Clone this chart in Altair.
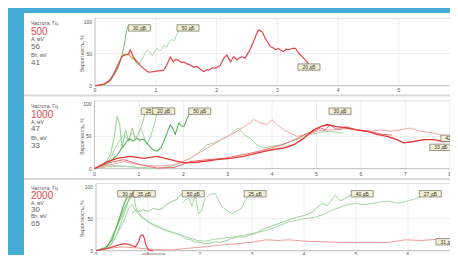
import altair as alt
import pandas as pd

# ---------------- values ----------------
freqs = ["500", "1000", "2000"]
amp_a = ["56", "47", "30"]
amp_b = ["41", "33", "65"]
y_ticks = [0, 50, 100]
p1_x_ticks = [0, 1, 2, 3, 4, 5]
p2_x_ticks = [0, 1, 2, 3, 4, 5, 6, 7, 8]
p3_x_ticks = [0, 1, 2, 3, 4, 5, 6]

# panel 1 (500 Hz)
p1_green1_x = [0, 0.08, 0.16, 0.24, 0.30, 0.36, 0.40, 0.44, 0.47, 0.50, 0.52, 0.54]
p1_green1_y = [0, 0.5, 2, 6, 14, 24, 33, 45, 58, 74, 86, 92]
p1_green2_x = [0.62, 0.66, 0.70, 0.74, 0.78, 0.82, 0.86, 0.90, 0.94, 0.98, 1.02, 1.06, 1.10, 1.14, 1.18, 1.22, 1.26, 1.30, 1.34, 1.38]
p1_green2_y = [44, 38, 33, 36, 42, 50, 56, 52, 47, 53, 58, 54, 57, 63, 60, 68, 72, 70, 78, 86]
p1_olive_x = [0, 0.1, 0.2, 0.3, 0.36, 0.44, 0.47, 0.55, 0.60, 0.69, 0.74]
p1_olive_y = [0, 1, 5, 16, 30, 45, 49, 49, 44, 37, 33]
p1_red_x = [0, 0.14, 0.25, 0.36, 0.44, 0.49, 0.55, 0.58, 0.63, 0.69, 0.74, 0.8, 0.88, 0.96, 1.04, 1.13, 1.18, 1.24, 1.29, 1.33,
            1.37, 1.42, 1.46, 1.52, 1.57, 1.62, 1.68, 1.73, 1.79, 1.84, 1.87, 1.93, 1.98, 2.03, 2.06, 2.12, 2.17, 2.23, 2.28, 2.34,
            2.38, 2.42, 2.47, 2.51, 2.55, 2.61, 2.65, 2.69, 2.75, 2.8, 2.84, 2.88, 2.93, 2.97, 3.02, 3.06, 3.1, 3.14, 3.19, 3.24,
            3.3, 3.35, 3.41, 3.45, 3.49, 3.52]
p1_red_y = [0, 2, 9, 27, 45, 48, 49, 56, 45, 37, 32, 27, 21, 22, 23, 24, 32, 45, 37, 41,
            40, 36, 37, 34, 32, 29, 30, 26, 22, 25, 24, 28, 27, 30, 32, 43, 48, 37, 45, 40,
            44, 45, 43, 50, 56, 69, 79, 87, 84, 74, 68, 61, 59, 56, 58, 55, 53, 57, 56, 58,
            58, 51, 45, 41, 37, 33]
p1_labels = ["30 дБ", "50 дБ", "20 дБ"]
p1_label_x = [0.73, 1.53, 3.52]
p1_label_y = [90, 90, 29]

# panel 2 (1000 Hz)
p2_g1_x = [0, 0.14, 0.25, 0.36, 0.44, 0.51, 0.57, 0.62, 0.70, 0.77, 0.85, 0.92, 1.00, 1.08, 1.15]
p2_g1_y = [0, 4, 9, 22, 47, 81, 68, 32, 60, 42, 63, 45, 55, 70, 88]
p2_g2_x = [0, 0.20, 0.35, 0.45, 0.55, 0.65, 0.75, 0.85, 0.95, 1.04, 1.11, 1.18, 1.25, 1.30, 1.37, 1.41]
p2_g2_y = [0, 6, 15, 30, 42, 52, 45, 55, 48, 63, 50, 37, 47, 58, 75, 88]
p2_g3_x = [0, 0.30, 0.50, 0.65, 0.75, 0.80, 0.88, 0.95, 1.02, 1.10, 1.20, 1.30, 1.41, 1.50, 1.56, 1.63, 1.71, 1.78, 1.82, 1.90, 1.96, 2.01, 2.09, 2.15]
p2_g3_y = [0, 8, 20, 35, 44, 46, 43, 47, 44, 46, 38, 30, 27, 33, 42, 55, 68, 60, 53, 71, 66, 65, 78, 88]
p2_g4_x = [0, 0.30, 0.66, 1.00, 1.41, 1.80, 2.16, 2.35, 2.54, 2.70, 2.91, 3.05, 3.13, 3.24, 3.36, 3.51, 3.66, 3.81, 4.00, 4.19,
           4.41, 4.60, 4.71, 4.85, 5.01, 5.15, 5.31, 5.45, 5.61]
p2_g4_y = [0, 3, 4, 2, 0, 5, 16, 25, 37, 40, 47, 52, 58, 63, 53, 47, 37, 32, 35, 37,
           42, 46, 50, 53, 55, 57, 58, 56, 55]
p2_g5_x = [0, 0.3, 0.6, 0.9, 1.2, 1.5]
p2_g5_y = [0, 6, 4, 2, 1, 0]
p2_pink_x = [0, 0.66, 1.04, 1.41, 1.79, 2.16, 2.54, 2.91, 3.21, 3.44, 3.59, 3.74, 3.89, 4.00, 4.11, 4.26, 4.41, 4.56, 4.79, 5.01,
             5.31, 5.61, 5.91, 6.21, 6.44, 6.66, 6.89, 7.11, 7.34, 7.64, 7.94, 8.12]
p2_pink_y = [0, 11, 6, 4, 6, 16, 32, 47, 58, 68, 76, 71, 68, 76, 68, 60, 55, 50, 53, 58,
             60, 63, 60, 58, 60, 58, 60, 63, 58, 55, 50, 47]
p2_red1_x = [0, 0.29, 0.51, 0.81, 1.11, 1.41, 1.71, 2.01, 2.31, 2.76, 3.06, 3.36, 3.66, 3.96, 4.26, 4.49, 4.71, 4.94, 5.09, 5.24,
             5.46, 5.69, 5.91, 6.14, 6.36, 6.59, 6.81, 6.96, 7.19, 7.41, 7.64, 7.86, 8.1]
p2_red1_y = [0, 11, 16, 19, 16, 19, 14, 9, 10, 14, 16, 19, 24, 29, 32, 37, 47, 60, 65, 68,
             65, 63, 60, 58, 53, 50, 45, 40, 42, 45, 45, 42, 43]
p2_red2_x = [0, 0.29, 0.66, 1.04, 1.41, 1.79, 2.16, 2.54, 2.91, 3.21, 3.51, 3.76, 3.96, 4.2, 4.41, 4.6, 4.79, 4.95, 5.09, 5.2,
             5.31, 5.42, 5.54, 5.65, 5.76, 5.9, 6.06, 6.2, 6.36, 6.5, 6.7]
p2_red2_y = [0, 9, 14, 6, 1, 2, 11, 14, 16, 20, 24, 28, 32, 36, 42, 48, 55, 58, 63, 60,
             68, 62, 60, 65, 63, 60, 58, 57, 55, 53, 52]
p2_labels = ["25 дБ", "20 дБ", "50 дБ", "30 дБ", "33 дБ", "42 дБ"]
p2_label_x = [1.3, 1.56, 2.37, 5.53, 7.8, 8.05]
p2_label_y = [89, 89, 89, 89, 33, 47]

# panel 3 (2000 Hz)
p3_g1_x = [0, 0.18, 0.31, 0.44, 0.53, 0.60, 0.63]
p3_g1_y = [0, 4, 17, 48, 71, 84, 90]
p3_g2_x = [0, 0.20, 0.37, 0.47, 0.56, 0.64, 0.69, 0.74]
p3_g2_y = [0, 3, 32, 50, 69, 80, 87, 92]
p3_g3_x = [0, 0.25, 0.40, 0.55, 0.66, 0.72, 0.76, 0.82, 0.88, 0.95, 1.01, 1.08, 1.14, 1.22, 1.33, 1.42, 1.53, 1.62, 1.72, 1.82,
           1.91, 2.00, 2.10, 2.20, 2.29, 2.40, 2.55, 2.65, 2.74, 2.85, 2.94, 3.06, 3.20, 3.35, 3.50, 3.70, 3.85, 4.00, 4.15, 4.35,
           4.45, 4.60, 4.70, 4.80, 4.92]
p3_g3_y = [0, 5, 25, 60, 88, 90, 69, 60, 53, 50, 45, 42, 40, 37, 32, 30, 27, 25, 19, 17,
           14, 13, 11, 12, 14, 13, 17, 20, 22, 21, 24, 27, 33, 38, 42, 48, 52, 55, 60, 74,
           70, 87, 78, 82, 88]
p3_g4_x = [0, 0.30, 0.50, 0.65, 0.70, 0.78, 0.90, 1.00, 1.10, 1.20, 1.35, 1.50, 1.65, 1.80, 1.95, 2.10, 2.30, 2.50, 2.70, 2.90,
           3.06, 3.20, 3.40, 3.55, 3.70, 3.85, 4.00, 4.20, 4.35, 4.50, 4.73, 4.85, 4.99, 5.15, 5.31, 5.45, 5.63, 5.80, 5.95, 6.10, 6.24]
p3_g4_y = [0, 10, 40, 70, 72, 60, 50, 45, 40, 36, 32, 28, 24, 20, 16, 15, 18, 20, 22, 25,
           28, 30, 35, 40, 45, 47, 50, 52, 56, 62, 69, 72, 74, 72, 74, 76, 77, 74, 77, 80, 84]
p3_g5_x = [0.69, 0.76, 0.82, 0.90, 1.01, 1.10, 1.20, 1.27, 1.35, 1.46, 1.55, 1.62, 1.67]
p3_g5_y = [58, 63, 61, 64, 61, 66, 64, 66, 72, 77, 80, 87, 90]
p3_g6_x = [1.67, 1.72, 1.78, 1.85, 1.91, 1.97, 2.03, 2.10, 2.20, 2.29, 2.36, 2.42, 2.50, 2.62, 2.70, 2.80, 2.87, 2.92, 2.97]
p3_g6_y = [75, 80, 82, 70, 86, 58, 62, 82, 88, 90, 78, 69, 64, 58, 62, 66, 79, 84, 88]
p3_red1_x = [0, 0.24, 0.44, 0.56, 0.66, 0.76, 0.82, 0.85, 0.87, 0.90, 0.92, 0.96, 1.01, 1.10]
p3_red1_y = [0, 4, 9, 11, 9, 6, 14, 22, 24, 25, 22, 9, 1, 0]
p3_red2_x = [0, 0.20, 0.50, 0.82, 1.10, 1.46, 1.78, 2.10, 2.42, 2.75, 3.06, 3.26, 3.50, 3.71, 4.00, 4.35, 4.70, 4.99, 5.30, 5.63,
             5.95, 6.27, 6.59, 6.81]
p3_red2_y = [0, 3, 6, 4, 2, 1, 4, 6, 9, 11, 14, 17, 16, 17, 15, 14, 13, 13, 13, 13,
             17, 16, 18, 17]
p3_labels = ["30 дБ", "35 дБ", "50 дБ", "25 дБ", "40 дБ", "27 дБ", "15 дБ", "31 дБ"]
p3_label_x = [0.63, 0.93, 1.87, 3.06, 5.12, 6.43, 1.11, 6.75]
p3_label_y = [89, 89, 89, 89, 89, 89, -10, 14]

# ---------------- styling / layout ----------------
BLUE = "#45acd6"
RED = "#e8474b"
FONT = "Liberation Sans"
W, H = 426, 242
PADL, PADT = 16, 5

panels = [
    dict(xdom=[0, 5.84], xr=[71, 426], yr=[72.7, 5.3], ticks=p1_x_ticks, tick_y=77, title_y=40.6,
         text_y=[10.3, 18.7, 26, 33.7, 42.3, 50.3],
         series=[(p1_green2_x, p1_green2_y, "#a9d8a9", 1.0),
                 (p1_green1_x, p1_green1_y, "#6fbf70", 1.0),
                 (p1_olive_x, p1_olive_y, "#c9a24c", 1.1),
                 (p1_red_x, p1_red_y, "#e5464a", 1.2)],
         labels=(p1_labels, p1_label_x, p1_label_y)),
    dict(xdom=[0, 8.0], xr=[70.5, 425.7], yr=[155.7, 87.8], ticks=p2_x_ticks, tick_y=161, title_y=123.4,
         text_y=[93, 102, 109.3, 116, 124.7, 132.5],
         series=[(p2_g5_x, p2_g5_y, "#b9dcb9", 1.0),
                 (p2_g4_x, p2_g4_y, "#a6d5a6", 1.0),
                 (p2_g1_x, p2_g1_y, "#8fd08f", 1.0),
                 (p2_g2_x, p2_g2_y, "#a3d6a3", 1.0),
                 (p2_g3_x, p2_g3_y, "#55b655", 1.1),
                 (p2_pink_x, p2_pink_y, "#f4a7a8", 1.0),
                 (p2_red2_x, p2_red2_y, "#ee6d6f", 1.0),
                 (p2_red1_x, p2_red1_y, "#e53935", 1.4)],
         labels=(p2_labels, p2_label_x, p2_label_y)),
    dict(xdom=[0, 6.8], xr=[72, 425.6], yr=[237.7, 170.5], ticks=p3_x_ticks, tick_y=240.5, title_y=205.7,
         text_y=[174.5, 182.5, 190.3, 196.8, 202.8, 210.6],
         series=[(p3_g4_x, p3_g4_y, "#a8d6a8", 1.0),
                 (p3_g3_x, p3_g3_y, "#9bd19b", 1.0),
                 (p3_g5_x, p3_g5_y, "#8fcf8f", 1.0),
                 (p3_g6_x, p3_g6_y, "#a5d6a5", 1.0),
                 (p3_g2_x, p3_g2_y, "#74c474", 1.0),
                 (p3_g1_x, p3_g1_y, "#4fb34f", 1.1),
                 (p3_red2_x, p3_red2_y, "#f29a9a", 1.0),
                 (p3_red1_x, p3_red1_y, "#e5464a", 1.2)],
         labels=(p3_labels, p3_label_x, p3_label_y)),
]


def X(p, field="x"):
    return alt.X(f"{field}:Q", scale=alt.Scale(domain=p["xdom"], range=p["xr"], nice=False, zero=False), axis=None)


def Y(p, field="y"):
    return alt.Y(f"{field}:Q", scale=alt.Scale(domain=[0, 105], range=p["yr"], nice=False, zero=False), axis=None)


one = pd.DataFrame({"v": [0]})
layers = []

# blue frame of the screenshot (left and top strips, drawn into the padding)
layers.append(alt.Chart(one).mark_rect(color=BLUE).encode(
    x=alt.value(-PADL), x2=alt.value(0), y=alt.value(-PADT), y2=alt.value(H)))
layers.append(alt.Chart(one).mark_rect(color=BLUE).encode(
    x=alt.value(-PADL), x2=alt.value(W), y=alt.value(-PADT), y2=alt.value(0)))

for i, p in enumerate(panels):
    ybot, ytop = p["yr"]
    x0 = p["xr"][0]
    # grid and frame
    grid_v = pd.DataFrame({"x": p["ticks"]})
    layers.append(alt.Chart(grid_v).mark_rule(color="#ebebeb", strokeWidth=0.8).encode(
        x=X(p), y=alt.value(ytop), y2=alt.value(ybot)))
    grid_h = pd.DataFrame({"y": [50, 105], "c": ["#e8e8e8", "#d6d6d6"]})
    layers.append(alt.Chart(grid_h).mark_rule(strokeWidth=0.8).encode(
        y=Y(p), x=alt.value(x0), x2=alt.value(W), color=alt.Color("c:N", scale=None)))
    layers.append(alt.Chart(pd.DataFrame({"y": [0]})).mark_rule(color="#a8a8a8", strokeWidth=0.8).encode(
        y=Y(p), x=alt.value(x0), x2=alt.value(W)))
    layers.append(alt.Chart(pd.DataFrame({"x": [0]})).mark_rule(color="#b8b8b8", strokeWidth=0.8).encode(
        x=X(p), y=alt.value(ytop), y2=alt.value(ybot)))
    # series
    for xs_, ys_, col, w in p["series"]:
        df = pd.DataFrame({"x": xs_, "y": ys_})
        layers.append(alt.Chart(df).mark_line(color=col, strokeWidth=w, strokeJoin="round").encode(
            x=X(p), y=Y(p)))
    # labels (box then text, one after another so later boxes cover earlier ones)
    lt, lx, ly = p["labels"]
    for t, xx, yy in zip(lt, lx, ly):
        ldf = pd.DataFrame({"x": [xx], "y": [yy], "t": [t]})
        layers.append(alt.Chart(ldf).mark_point(shape="M-1,-0.29H1V0.29H-1Z", size=484, filled=True,
                                                fill="#f3f0d4", stroke="#6f6f62", strokeWidth=0.7,
                                                opacity=1).encode(x=X(p), y=Y(p)))
        layers.append(alt.Chart(ldf).mark_text(fontSize=5, color="#333333", font=FONT).encode(
            x=X(p), y=Y(p), text="t:N"))
    # tick labels
    tdf = pd.DataFrame({"x": p["ticks"], "t": [str(t) for t in p["ticks"]]})
    layers.append(alt.Chart(tdf).mark_text(fontSize=5, color="#555555", font=FONT).encode(
        x=X(p), y=alt.value(p["tick_y"]), text="t:N"))
    ydf = pd.DataFrame({"y": y_ticks, "t": [str(t) for t in y_ticks]})
    layers.append(alt.Chart(ydf).mark_text(fontSize=5, color="#555555", align="right", font=FONT).encode(
        y=Y(p), x=alt.value(x0 - 3), text="t:N"))
    layers.append(alt.Chart(one).mark_text(
        text="Вероятность, %", angle=270, fontSize=5, color="#555555", font=FONT).encode(
        x=alt.value(57.7), y=alt.value(p["title_y"])))
    # left info block
    ty = p["text_y"]
    info = [("Частота, Гц", 5, "#555555"), (freqs[i], 10, RED), ("A, мV", 5, "#555555"),
            (amp_a[i], 8, "#666666"), ("Вh, мV", 5, "#555555"), (amp_b[i], 8, "#666666")]
    for (txt, fs, col), yy in zip(info, ty):
        layers.append(alt.Chart(one).mark_text(
            text=txt, fontSize=fs, color=col, align="left", baseline="middle", font=FONT).encode(
            x=alt.value(7), y=alt.value(yy)))

# separators between the panels
for y1, y2 in [(81.5, 83.5), (165, 167)]:
    layers.append(alt.Chart(one).mark_rect(color="#d9d9d9").encode(
        x=alt.value(0), x2=alt.value(W), y=alt.value(y1), y2=alt.value(y2)))

chart = alt.layer(*layers).resolve_scale(x="independent", y="independent").properties(
    width=W, height=H,
    padding={"left": PADL, "top": PADT, "right": 0, "bottom": 0},
    autosize=alt.AutoSizeParams(type="none"),
    background="#ffffff",
).configure_view(fill="#ffffff", strokeWidth=0)

chart.save("out.html", embed_options={"renderer": "svg", "actions": False})
